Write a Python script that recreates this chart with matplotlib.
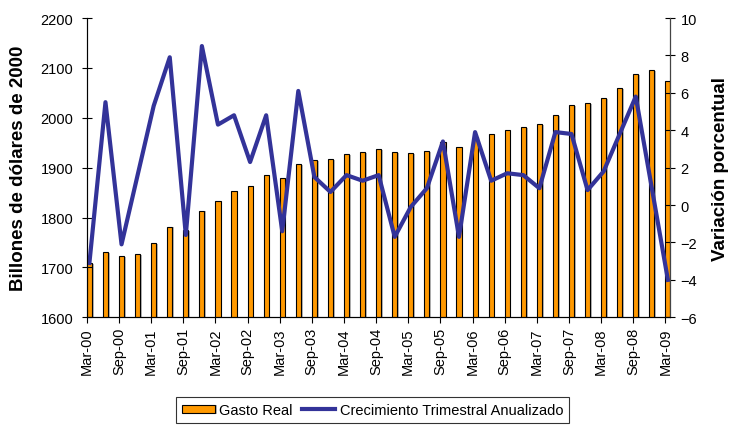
#!/usr/bin/env python3
"""
Gasto real vs crecimiento trimestral anualizado (Mar-00 a Mar-09)
"""

import numpy as np
import matplotlib.pyplot as plt
import matplotlib.patheffects as pe

plt.rcParams['font.family'] = ['Liberation Sans', 'DejaVu Sans']

# Quarters Mar-00 ... Mar-09
quarters = []
for yr in range(0, 10):
    for m in ['Mar', 'Jun', 'Sep', 'Dec']:
        quarters.append('%s-%02d' % (m, yr))
quarters = quarters[:37]

# Gasto real (billones de dolares de 2000)
gasto = [1708, 1730, 1722, 1727, 1749, 1782, 1775, 1814, 1833, 1854,
         1864, 1886, 1879, 1907, 1915, 1917, 1927, 1931, 1938, 1931,
         1929, 1934, 1952, 1941, 1962, 1967, 1975, 1982, 1987, 2006,
         2026, 2030, 2040, 2059, 2087, 2096, 2074]

# Crecimiento trimestral anualizado (%)
crecimiento = [-3.1, 5.5, -2.1, 1.6, 5.3, 7.9, -1.6, 8.5, 4.3, 4.8,
               2.3, 4.8, -1.4, 6.1, 1.5, 0.7, 1.6, 1.3, 1.6, -1.7,
               -0.1, 0.9, 3.4, -1.7, 3.9, 1.3, 1.7, 1.6, 0.9, 3.9,
               3.8, 0.8, 1.8, 3.8, 5.8, 0.9, -4.0]

x = np.arange(len(quarters))

fig = plt.figure(figsize=(7.32, 4.27), dpi=100)
ax = fig.add_axes([0.1184, 0.2546, 0.7969, 0.7009])

bars = ax.bar(x, gasto, width=0.32, color='#FF9900', edgecolor='black',
              linewidth=0.8, label='Gasto Real')
# light grey shadow on the right side of each bar, like the original
for b in bars:
    b.set_path_effects([pe.SimplePatchShadow(offset=(1.2, -0.6),
                                             shadow_rgbFace='#888888', alpha=0.6),
                        pe.Normal()])
ax.set_ylim(1600, 2200)
ax.set_yticks(np.arange(1600, 2201, 100))
ax.set_xlim(-0.17, 36.13)
ax.set_xticks(x[::2] - 0.16)
ax.set_xticklabels(quarters[::2], rotation=90, fontsize=10.5)
ax.tick_params(axis='y', direction='inout', length=7, pad=6, labelsize=10.5)
ax.tick_params(axis='x', direction='out', length=4, pad=3)
ax.set_ylabel('Billones de dólares de 2000', fontsize=13.5, fontweight='bold')
ax.yaxis.set_label_coords(-0.102, 0.5)
ax.spines['top'].set_visible(False)
ax.spines['left'].set_color('#444444')

ax2 = ax.twinx()
line, = ax2.plot(x, crecimiento, color='#333399', linewidth=3,
                 label='Crecimiento Trimestral Anualizado')
ax2.set_ylim(-6, 10)
ax2.set_yticks(np.arange(-6, 11, 2))
ax2.tick_params(axis='y', direction='inout', length=7, pad=4, labelsize=10.5)
ax2.set_ylabel('Variación porcentual', fontsize=13.5, fontweight='bold')
ax2.yaxis.set_label_coords(1.0715, 0.5)
ax2.spines['top'].set_visible(False)
ax2.spines['right'].set_color('#444444')

leg = fig.legend(handles=[bars, line], loc='center', ncol=2,
                 bbox_to_anchor=(0.5087, 0.0375), fontsize=10.5, frameon=True,
                 fancybox=False, edgecolor='black', handlelength=2.3,
                 handleheight=0.5, handletextpad=0.3, columnspacing=0.6,
                 borderpad=0.4)
leg.get_frame().set_linewidth(0.8)

plt.savefig('out.png')
plt.close()
